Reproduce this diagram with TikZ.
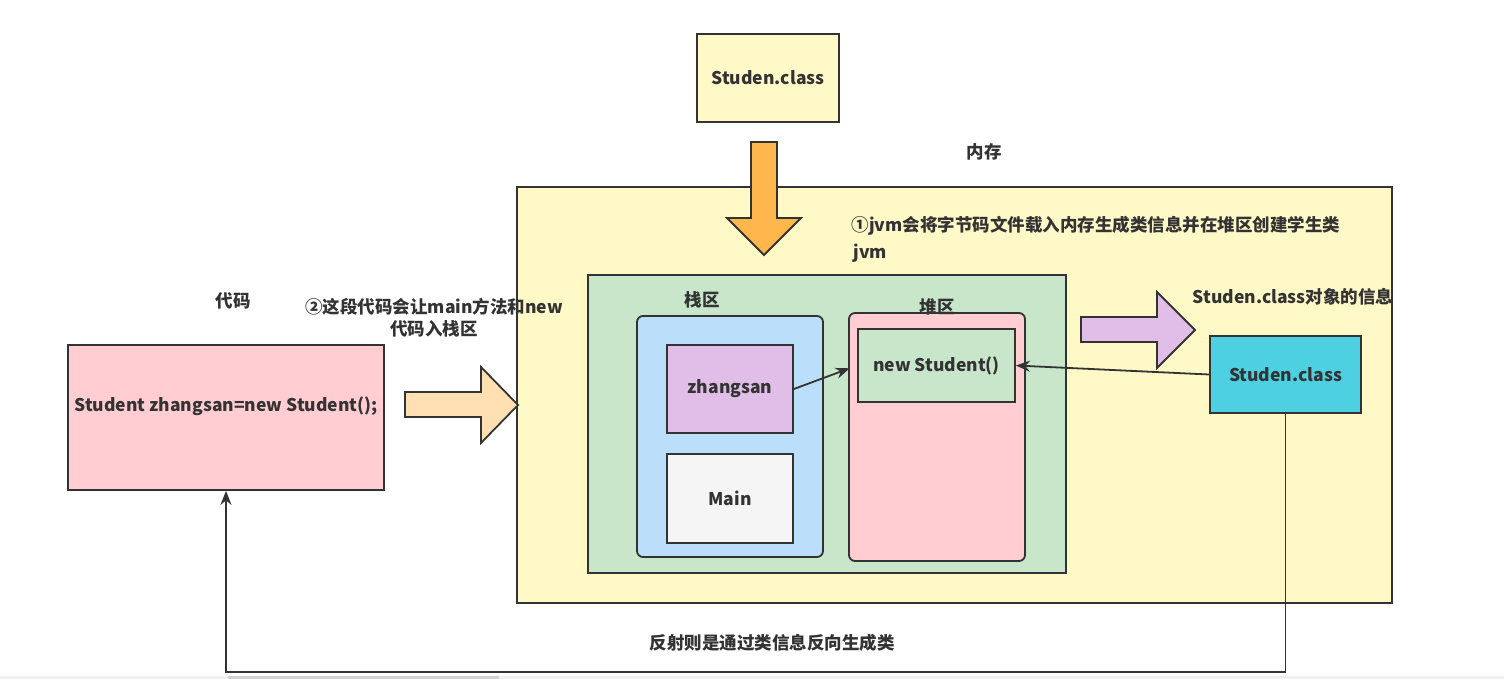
\documentclass[tikz,border=0pt]{standalone}
\usepackage{fontspec}
\setmainfont{Noto Sans CJK SC}
\usetikzlibrary{arrows.meta}

\definecolor{lineclr}{HTML}{333333}
\definecolor{yellowfill}{HTML}{FFF9C8}
\definecolor{greenfill}{HTML}{C8E6C9}
\definecolor{bluefill}{HTML}{BBDEFB}
\definecolor{purplefill}{HTML}{E1BEE7}
\definecolor{grayfill}{HTML}{F5F5F5}
\definecolor{pinkfill}{HTML}{FFCDD2}
\definecolor{cyanfill}{HTML}{4DD0E1}
\definecolor{orangefill}{HTML}{FFB74D}
\definecolor{peachfill}{HTML}{FFE0B2}

\tikzset{
  txt/.style={font=\bfseries\fontsize{17.5}{22}\selectfont, text=lineclr},
  box/.style={txt, draw=lineclr, line width=1.8pt, inner sep=0pt},
  area/.style={box, rounded corners=6pt},
  conn/.style={draw=lineclr, line width=1.8pt, -{Stealth[length=14pt,width=11pt]}},
  blockarrow/.style={draw=lineclr, line width=1.8pt, line join=miter}
}

\begin{document}
\begin{tikzpicture}[x=1pt,y=-1pt]
  \useasboundingbox (0,0) rectangle (1504,679);
  % scroll bar at the bottom
  \fill[gray!12] (0,676) rectangle (1504,679);
  \fill[gray!35] (228,676) rectangle (499,679);

  % class file and memory
  \node[box, fill=yellowfill, minimum width=142pt, minimum height=88pt] (clsfile) at (768,78) {Studen.class};
  \node[txt] (memlbl) at (984,152) {内存};
  \node[box, fill=yellowfill, minimum width=875pt, minimum height=416pt] (mem) at (954.5,395) {};
  \draw[blockarrow, fill=orangefill] (751,142) -- (777,142) -- (777,218) -- (801,218) -- (764,255) -- (727,218) -- (751,218) -- cycle;
  \node[txt, anchor=west] (jvmtxt) at (848,226) {①jvm会将字节码文件载入内存生成类信息并在堆区创建学生类};
  \node[txt, anchor=west] (jvmtxt2) at (850,253) {jvm};

  % stack and heap
  \node[box, fill=greenfill, minimum width=478pt, minimum height=298pt] (jvmarea) at (827,424) {};
  \node[txt] (stacklbl) at (702,300) {栈区};
  \node[area, fill=bluefill, minimum width=186pt, minimum height=241pt] (stack) at (730,436.5) {};
  \node[box, fill=purplefill, minimum width=126pt, minimum height=88pt] (zs) at (730,389) {zhangsan};
  \node[box, fill=grayfill, minimum width=126pt, minimum height=89pt] (mainfr) at (730,498.5) {Main};
  \node[area, fill=pinkfill, minimum width=176pt, minimum height=248pt] (heap) at (937,437) {};
  \node[txt] (heaplbl) at (937,307) {堆区};
  \node[box, fill=greenfill, minimum width=157pt, minimum height=73pt] (newstu) at (936.5,365.5) {new Student()};
  \draw[conn, shorten >=8pt] (zs.east) -- (newstu.west);

  % class object
  \draw[blockarrow, fill=purplefill] (1081,317) -- (1157,317) -- (1157,292) -- (1195,330) -- (1157,368) -- (1157,342) -- (1081,342) -- cycle;
  \node[txt] (infolbl) at (1293,297) {Studen.class对象的信息};
  \node[box, fill=cyanfill, minimum width=151pt, minimum height=77pt] (clsobj) at (1285.5,374.5) {Studen.class};
  \draw[conn] (clsobj.west) -- (newstu.east);

  % code
  \node[txt] (codelbl) at (233,301) {代码};
  \node[txt, align=center] (step2) at (434,318) {②这段代码会让main方法和new\\代码入栈区};
  \node[box, fill=pinkfill, minimum width=316pt, minimum height=145pt, text depth=26pt] (code) at (226,417.5) {Student zhangsan=new Student();};
  \draw[blockarrow, fill=peachfill] (405,392) -- (481,392) -- (481,367) -- (518,405) -- (481,443) -- (481,417) -- (405,417) -- cycle;

  % reflection
  \draw[conn] (clsobj.south) -- ++(0,258) -| (code.south);
  \node[txt] (reflbl) at (772,643) {反射则是通过类信息反向生成类};
\end{tikzpicture}
\end{document}
